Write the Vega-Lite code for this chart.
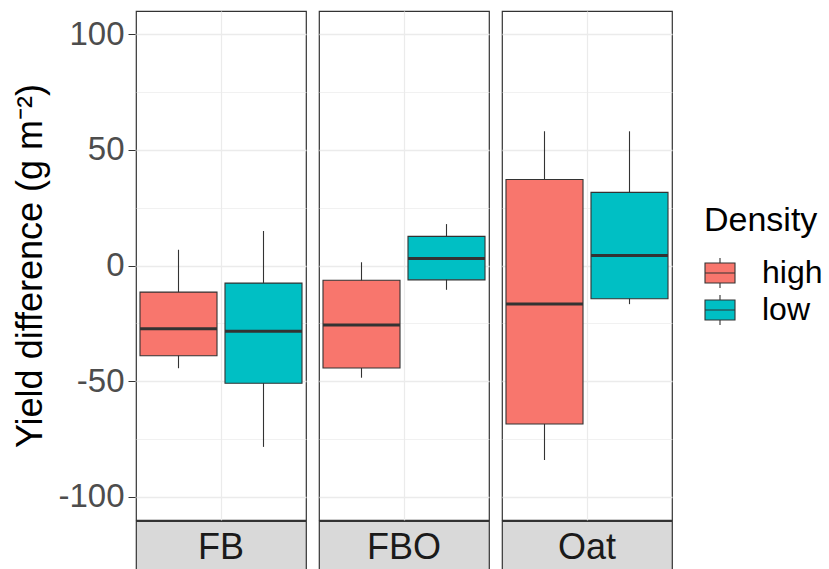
{
  "$schema": "https://vega.github.io/schema/vega-lite/v6.json",
  "padding": {"left": 12, "top": 10, "right": 0, "bottom": 0},
  "config": {
    "font": "Liberation Sans",
    "view": {"stroke": "#333333", "strokeWidth": 1.2},
    "axis": {"titleFontWeight": "normal"},
    "legend": {"titleFontWeight": "normal"}
  },
  "datasets": {
    "boxes": [
      {"crop": "FB", "density": "high", "g": "all", "lower": -44.4, "q1": -39.0, "median": -27.3, "q3": -11.5, "upper": 6.8},
      {"crop": "FB", "density": "low", "g": "all", "lower": -78.4, "q1": -50.9, "median": -28.4, "q3": -7.6, "upper": 14.9},
      {"crop": "FBO", "density": "high", "g": "all", "lower": -48.5, "q1": -44.3, "median": -25.7, "q3": -6.4, "upper": 1.4},
      {"crop": "FBO", "density": "low", "g": "all", "lower": -10.5, "q1": -6.2, "median": 3.0, "q3": 12.6, "upper": 17.9},
      {"crop": "Oat", "density": "high", "g": "all", "lower": -84.1, "q1": -68.5, "median": -16.6, "q3": 37.2, "upper": 58.0},
      {"crop": "Oat", "density": "low", "g": "all", "lower": -16.7, "q1": -14.4, "median": 4.3, "q3": 31.6, "upper": 58.0}
    ],
    "strips": [
      {"crop": "FB"},
      {"crop": "FBO"},
      {"crop": "Oat"}
    ]
  },
  "vconcat": [
    {
      "data": {"name": "boxes"},
      "facet": {
        "column": {"field": "crop", "type": "nominal", "sort": ["FB", "FBO", "Oat"], "title": null, "header": {"labels": false, "title": null}}
      },
      "spacing": 11,
      "spec": {
        "width": 170,
        "height": 509,
        "encoding": {
          "x": {"field": "g", "type": "nominal", "title": null,
            "scale": {"paddingInner": 0, "paddingOuter": 0},
            "axis": {"labels": false, "ticks": false, "domain": false, "grid": true, "gridColor": "#EBEBEB", "gridWidth": 1.2, "title": null, "labelPadding": 0, "offset": 0}},
          "xOffset": {"field": "density", "type": "nominal", "sort": ["high", "low"],
            "scale": {"paddingInner": 0.094, "paddingOuter": 0.047}}
        },
        "layer": [
          {
            "mark": {"type": "rule", "color": "#333333", "strokeWidth": 1.1},
            "encoding": {
              "y": {"field": "lower", "type": "quantitative",
                "scale": {"domain": [-110, 110], "nice": false, "zero": false},
                "axis": {
                  "title": "Yield difference (g m⁻²)",
                  "titleFontSize": 36, "titleColor": "#000000", "titlePadding": 8,
                  "values": [-100, -75, -50, -25, 0, 25, 50, 75, 100],
                  "labelExpr": "datum.value % 50 == 0 ? '' + datum.value : ''",
                  "labelFontSize": 33, "labelColor": "#4D4D4D", "labelPadding": 4,
                  "domain": false,
                  "tickColor": "#333333", "tickSize": 7,
                  "tickOpacity": {"condition": {"test": "datum.value % 50 == 0", "value": 1}, "value": 0},
                  "grid": true, "gridColor": "#EBEBEB",
                  "gridWidth": {"condition": {"test": "datum.value % 50 == 0", "value": 1.3}, "value": 0.7}
                }
              },
              "y2": {"field": "upper"}
            }
          },
          {
            "mark": {"type": "bar", "stroke": "#333333", "strokeWidth": 1.1},
            "encoding": {
              "y": {"field": "q1", "type": "quantitative"},
              "y2": {"field": "q3"},
              "fill": {"field": "density", "type": "nominal", "sort": ["high", "low"],
                "scale": {"domain": ["high", "low"], "range": ["#F8766D", "#00BFC4"]},
                "legend": {
                  "title": "Density",
                  "orient": "none", "legendX": 568, "legendY": 193,
                  "titleFontSize": 34, "titleColor": "#000000", "titlePadding": 19,
                  "labelFontSize": 32, "labelColor": "#000000", "labelOffset": 26,
                  "symbolType": "M-1,-0.67H1V0.67H-1Z M-1,0H1 M0,-0.67V-1 M0,0.67V1",
                  "symbolSize": 900, "symbolStrokeColor": "#333333", "symbolStrokeWidth": 1.1,
                  "rowPadding": 1
                }
              }
            }
          },
          {
            "mark": {"type": "tick", "color": "#333333", "thickness": 3, "size": 77, "opacity": 1},
            "encoding": {
              "y": {"field": "median", "type": "quantitative"}
            }
          }
        ]
      }
    },
    {
      "data": {"name": "strips"},
      "facet": {
        "column": {"field": "crop", "type": "nominal", "sort": ["FB", "FBO", "Oat"], "title": null, "header": {"labels": false, "title": null}}
      },
      "spacing": 11,
      "spec": {
        "width": 170,
        "height": 50,
        "view": {"fill": "#D9D9D9", "stroke": "#333333", "strokeWidth": 1.2},
        "mark": {"type": "text", "fontSize": 36, "color": "#1A1A1A", "baseline": "middle", "dy": 2},
        "encoding": {
          "text": {"field": "crop", "type": "nominal"}
        }
      }
    }
  ],
  "spacing": -2
}
